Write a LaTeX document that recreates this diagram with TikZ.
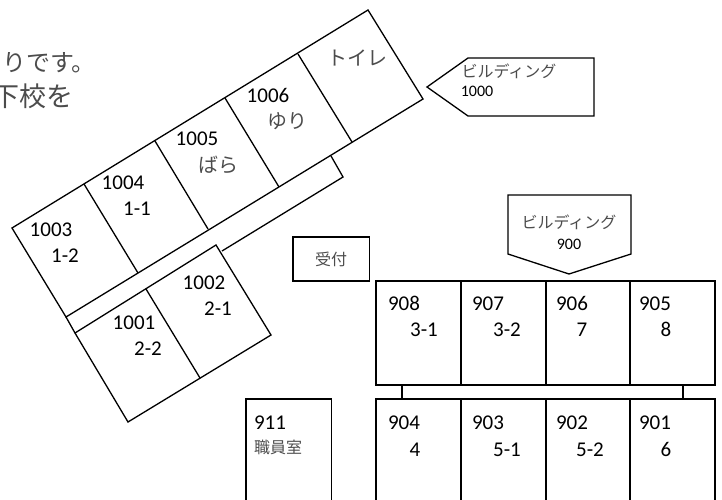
\documentclass[tikz,border=0pt]{standalone}
\usepackage{fontspec}
\setmainfont{Carlito}
\newfontfamily\jp{Noto Sans CJK JP}
\definecolor{jpgray}{gray}{0.3}
\tikzset{
  room/.style={draw, line width=1.3pt, minimum width=85pt, inner sep=0pt},
  wall/.style={draw, line width=1.3pt, line join=miter},
  num/.style={font=\fontsize{21}{21}\selectfont, inner sep=0pt, text height=13pt, text depth=0pt},
  small/.style={font=\fontsize{16}{16}\selectfont, inner sep=0pt, text height=10pt, text depth=0pt},
  kana/.style={font=\fontsize{20}{20}\selectfont\jp, text=jpgray, inner sep=0pt},
  kanasmall/.style={font=\fontsize{16}{16}\selectfont\jp, text=jpgray, inner sep=0pt}
}
\begin{document}
\begin{tikzpicture}[x=1pt,y=-1pt]
\useasboundingbox (0,0) rectangle (722,500);
\clip (0,0) rectangle (722,500);
% text cut off by the left edge
\node[kana, font=\fontsize{24}{24}\selectfont\jp, anchor=east] (line1) at (96,63) {りです。};
\node[kana, font=\fontsize{27}{27}\selectfont\jp, anchor=east] (line2) at (74,96) {下校を};
% building 1000, upper wing
\draw[wall] (12,228) -- (368,10) -- (423,99) -- (66,317) -- cycle;
\foreach \xa/\ya/\xb/\yb in {84/184/138/273, 155/141/208/229, 225/98/279/187, 298/54/352/142} {
    \draw[wall] (\xa,\ya) -- (\xb,\yb);
}
% corridor
\draw[wall] (331,156) -- (343,177) -- (222,251);
\draw[wall] (66,317) -- (75,333);
% building 1000, lower wing
\draw[wall] (75,333) -- (216,245) -- (271,335) -- (128,422) -- cycle;
\draw[wall] (146,289) -- (200,378);
\foreach \num/\x/\y/\sub/\sx/\sy in {1003/51/230/1-2/65/256, 1004/123/183/1-1/137/209, 1002/204/283/2-1/218/309, 1001/134/323/2-2/148/349} {
    \node[num] (n\num) at (\x,\y) {\num};
    \node[num] (s\num) at (\sx,\sy) {\sub};
}
\node[num] (n1005) at (197,139) {1005};
\node[kana] (s1005) at (218,165) {ばら};
\node[num] (n1006) at (268,96) {1006};
\node[kana] (s1006) at (287,121) {ゆり};
\node[kana] (toilet) at (357,58) {トイレ};
% signs
\draw[wall] (427,87) -- (468,58) -- (594,58) -- (594,116) -- (468,116) -- cycle;
\node[kanasmall] (sign1000) at (509,71) {ビルディング};
\node[small] (num1000) at (477,92) {1000};
\draw[wall] (508,195) -- (631,195) -- (631,254) -- (569,274) -- (508,254) -- cycle;
\node[kanasmall] (sign900) at (569,222) {ビルディング};
\node[small] (num900) at (569,244) {900};
\draw[wall] (293,237) rectangle (369.5,281);
\node[kanasmall] (desk) at (331,259) {受付};
\draw[wall] (246,399) rectangle (331.5,510);
\node[num] (n911) at (270,423) {911};
\node[kanasmall] (staff) at (278,447) {職員室};
% building 900
\foreach \num/\x/\nx/\sub/\sx in {908/418.5/404/3-1/424, 907/503.5/488/3-2/507, 906/588/572/7/582, 905/672.5/655/8/666} {
    \node[room, minimum height=104pt] (r\num) at (\x,333) {};
    \node[num] (n\num) at (\nx,304) {\num};
    \node[num] (s\num) at (\sx,330) {\sub};
}
\foreach \num/\x/\nx/\sub/\sx in {904/418.5/404/4/415, 903/503.5/488/5-1/507, 902/588/572/5-2/590, 901/672.5/655/6/666} {
    \node[room, minimum height=116pt] (r\num) at (\x,457) {};
    \node[num] (n\num) at (\nx,423) {\num};
    \node[num] (s\num) at (\sx,450) {\sub};
}
\draw[line width=1.3pt] ([xshift=-16.5pt]r908.south) -- ([xshift=-16.5pt]r904.north);
\draw[line width=1.3pt] ([xshift=10.5pt]r905.south) -- ([xshift=10.5pt]r901.north);
\end{tikzpicture}
\end{document}
